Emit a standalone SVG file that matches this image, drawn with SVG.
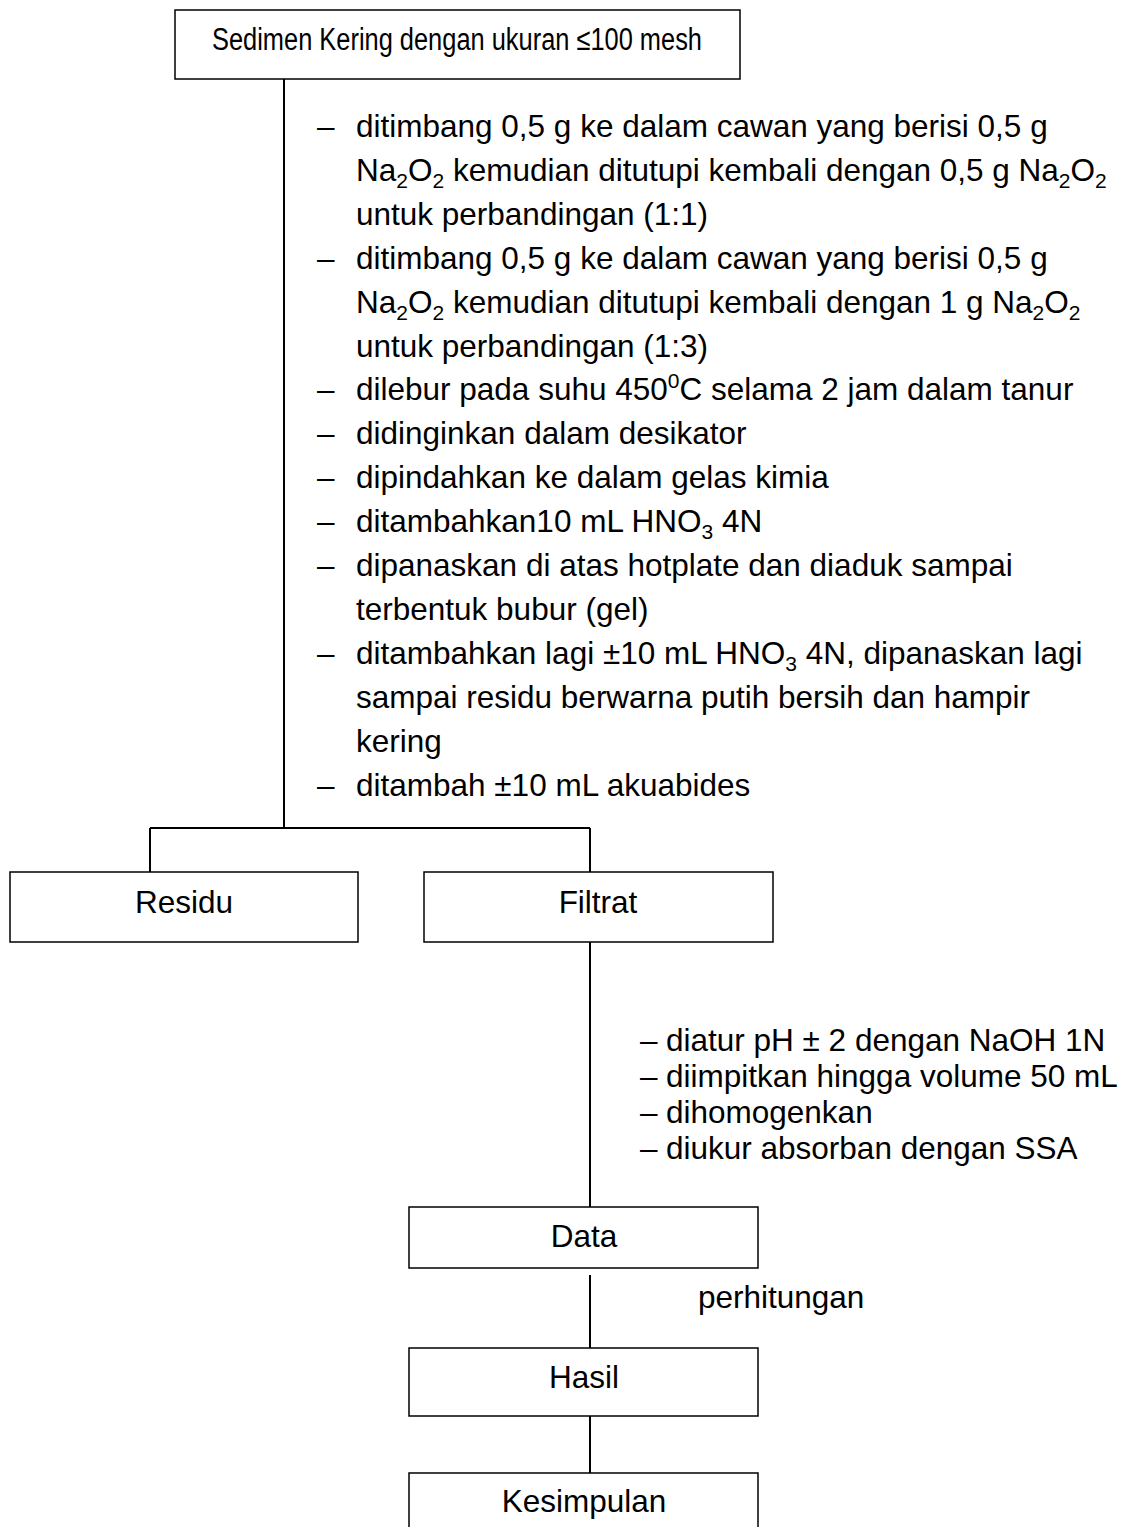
<svg xmlns="http://www.w3.org/2000/svg" width="1134" height="1527" viewBox="0 0 1134 1527">
<style>
.box{fill:#fff;stroke:#000;stroke-width:1.5}
.ln{stroke:#000;stroke-width:2;fill:none}
text{font-family:"Liberation Sans",Arial,sans-serif;fill:#000;font-size:31.5px}
.c{text-anchor:middle}
.s{font-size:21px}
.h{font-size:31px}
</style>
<rect width="1134" height="1527" fill="#fff"/>
<g id="connectors">
<line class="ln" x1="284" y1="79" x2="284" y2="828"/>
<line class="ln" x1="150" y1="828" x2="590" y2="828"/>
<line class="ln" x1="150" y1="828" x2="150" y2="872"/>
<line class="ln" x1="590" y1="828" x2="590" y2="872"/>
<line class="ln" x1="590" y1="942" x2="590" y2="1207"/>
<line class="ln" x1="590" y1="1275" x2="590" y2="1348"/>
<line class="ln" x1="590" y1="1410" x2="590" y2="1473"/>
</g>
<g id="node-sedimen">
<rect class="box" x="175" y="10" width="565" height="69"/>
<text class="h" x="212" y="50" textLength="490" lengthAdjust="spacingAndGlyphs">Sedimen Kering dengan ukuran ≤100 mesh</text>
</g>
<g id="steps-1">
<text x="317" y="137">–</text><text x="356" y="137">ditimbang 0,5 g ke dalam cawan yang berisi 0,5 g</text>
<text x="356" y="180.9">Na<tspan class="s" dy="7">2</tspan><tspan dy="-7">O</tspan><tspan class="s" dy="7">2</tspan><tspan dy="-7"> kemudian ditutupi kembali dengan 0,5 g Na</tspan><tspan class="s" dy="7">2</tspan><tspan dy="-7">O</tspan><tspan class="s" dy="7">2</tspan></text>
<text x="356" y="224.8">untuk perbandingan (1:1)</text>
<text x="317" y="268.7">–</text><text x="356" y="268.7">ditimbang 0,5 g ke dalam cawan yang berisi 0,5 g</text>
<text x="356" y="312.6">Na<tspan class="s" dy="7">2</tspan><tspan dy="-7">O</tspan><tspan class="s" dy="7">2</tspan><tspan dy="-7"> kemudian ditutupi kembali dengan 1 g Na</tspan><tspan class="s" dy="7">2</tspan><tspan dy="-7">O</tspan><tspan class="s" dy="7">2</tspan></text>
<text x="356" y="356.5">untuk perbandingan (1:3)</text>
<text x="317" y="400.4">–</text><text x="356" y="400.4">dilebur pada suhu 450<tspan class="s" dy="-12">0</tspan><tspan dy="12">C selama 2 jam dalam tanur</tspan></text>
<text x="317" y="444.3">–</text><text x="356" y="444.3">didinginkan dalam desikator</text>
<text x="317" y="488.2">–</text><text x="356" y="488.2">dipindahkan ke dalam gelas kimia</text>
<text x="317" y="532.1">–</text><text x="356" y="532.1">ditambahkan10 mL HNO<tspan class="s" dy="7">3</tspan><tspan dy="-7"> 4N</tspan></text>
<text x="317" y="576">–</text><text x="356" y="576">dipanaskan di atas hotplate dan diaduk sampai</text>
<text x="356" y="619.9">terbentuk bubur (gel)</text>
<text x="317" y="663.8">–</text><text x="356" y="663.8">ditambahkan lagi ±10 mL HNO<tspan class="s" dy="7">3</tspan><tspan dy="-7"> 4N, dipanaskan lagi</tspan></text>
<text x="356" y="707.7">sampai residu berwarna putih bersih dan hampir</text>
<text x="356" y="751.6">kering</text>
<text x="317" y="795.5">–</text><text x="356" y="795.5">ditambah ±10 mL akuabides</text>
</g>
<g id="node-residu">
<rect class="box" x="10" y="872" width="348" height="70"/>
<text class="c" x="184" y="913">Residu</text>
</g>
<g id="node-filtrat">
<rect class="box" x="424" y="872" width="349" height="70"/>
<text class="c" x="598" y="913">Filtrat</text>
</g>
<g id="steps-2">
<text x="640" y="1051">–</text><text x="666" y="1051">diatur  pH ± 2 dengan NaOH 1N</text>
<text x="640" y="1087">–</text><text x="666" y="1087">diimpitkan hingga volume 50 mL</text>
<text x="640" y="1123">–</text><text x="666" y="1123">dihomogenkan</text>
<text x="640" y="1159">–</text><text x="666" y="1159">diukur absorban dengan SSA</text>
</g>
<g id="node-data">
<rect class="box" x="409" y="1207" width="349" height="61"/>
<text class="c" x="584" y="1247">Data</text>
</g>
<text x="698" y="1308">perhitungan</text>
<g id="node-hasil">
<rect class="box" x="409" y="1348" width="349" height="68"/>
<text class="c" x="584" y="1388">Hasil</text>
</g>
<g id="node-kesimpulan">
<rect class="box" x="409" y="1473" width="349" height="80"/>
<text class="c" x="584" y="1512">Kesimpulan</text>
</g>
</svg>
